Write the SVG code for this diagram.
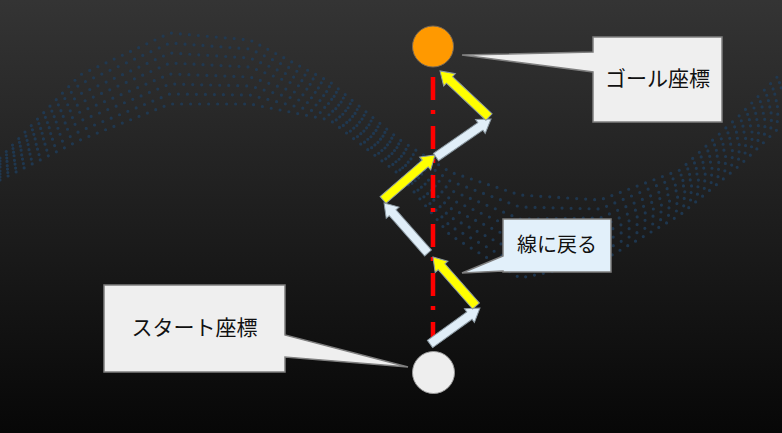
<svg xmlns="http://www.w3.org/2000/svg" width="782" height="433" viewBox="0 0 782 433">
  <defs>
    <linearGradient id="bg" x1="0" y1="0" x2="0" y2="1">
      <stop offset="0" stop-color="#343434"/>
      <stop offset="1" stop-color="#070707"/>
    </linearGradient>
  </defs>
  <style>
    .wave { fill: none; stroke: #1f3b57; stroke-width: 3.2; stroke-linecap: round; stroke-linejoin: round; stroke-dasharray: 0 9; opacity: 0.85; }
    .trail { fill: none; stroke: #ff0000; stroke-width: 4.5; stroke-dasharray: 23 10 4 12; }
    .arrow { stroke: #8c9aa3; stroke-width: 1; stroke-linejoin: miter; }
    .yel { fill: #ffff00; }
    .blu { fill: #e0eef8; }
    .callout { stroke: #7f7f7f; stroke-width: 1.5; }
    .label { font-family: "Noto Sans CJK JP", "Noto Sans", sans-serif; fill: #111111; text-anchor: middle; }
  </style>

  <rect x="0" y="0" width="782" height="433" fill="url(#bg)"/>

  <g id="wave-background">
    <path class="wave" d="M0,158 L80,75 L170,33 L250,40 L330,82 L400,140 L450,172 L520,195 L600,200 L680,170 L740,115 L782,72"/>
    <path class="wave" d="M0,161 L80,84 L170,43 L250,49 L330,87 L400,145 L450,181 L520,207 L600,209 L680,176 L740,122 L782,80"/>
    <path class="wave" d="M0,164 L80,94 L170,53 L250,58 L330,93 L400,150 L450,190 L520,219 L600,218 L680,183 L740,129 L782,87"/>
    <path class="wave" d="M0,167 L80,103 L170,63 L250,67 L330,98 L400,155 L450,199 L520,231 L600,227 L680,189 L740,136 L782,95"/>
    <path class="wave" d="M0,171 L80,112 L170,74 L250,77 L330,104 L400,160 L450,208 L520,242 L600,235 L680,196 L740,144 L782,102"/>
    <path class="wave" d="M0,174 L80,121 L170,84 L250,86 L330,109 L400,165 L450,217 L520,254 L600,244 L680,202 L740,151 L782,110"/>
    <path class="wave" d="M0,177 L80,131 L170,94 L250,95 L330,115 L400,170 L450,226 L520,266 L600,253 L680,209 L740,158 L782,117"/>
    <path class="wave" d="M0,180 L80,140 L170,104 L250,104 L330,120 L400,175 L450,235 L520,278 L600,262 L680,215 L740,165 L782,125"/>
  </g>

  <g id="connectors">
    <line class="trail" x1="433" y1="77" x2="433" y2="347"/>
    <path class="arrow blu" transform="translate(430,344) rotate(-35.8)" d="M0,-4.5 L48.6,-4.5 L48.6,-8.5 L61.6,0 L48.6,8.5 L48.6,4.5 L0,4.5 Z"/>
    <path class="arrow yel" transform="translate(476,306) rotate(-131.3)" d="M0,-4.5 L52.2,-4.5 L52.2,-8.5 L65.2,0 L52.2,8.5 L52.2,4.5 L0,4.5 Z"/>
    <path class="arrow blu" transform="translate(428,253) rotate(-131.3)" d="M0,-4.5 L53.6,-4.5 L53.6,-8.5 L66.6,0 L53.6,8.5 L53.6,4.5 L0,4.5 Z"/>
    <path class="arrow yel" transform="translate(383,200) rotate(-40.9)" d="M0,-4.5 L55.8,-4.5 L55.8,-8.5 L68.8,0 L55.8,8.5 L55.8,4.5 L0,4.5 Z"/>
    <path class="arrow blu" transform="translate(436,157) rotate(-34.6)" d="M0,-4.5 L53.9,-4.5 L53.9,-8.5 L66.9,0 L53.9,8.5 L53.9,4.5 L0,4.5 Z"/>
    <path class="arrow yel" transform="translate(489,117) rotate(-136.8)" d="M0,-4.5 L54.2,-4.5 L54.2,-8.5 L67.2,0 L54.2,8.5 L54.2,4.5 L0,4.5 Z"/>
  </g>

  <g id="goal">
    <circle cx="433" cy="46.5" r="20.5" fill="#ff9900" stroke="#7a6a55" stroke-width="1"/>
  </g>

  <g id="start">
    <circle cx="433.5" cy="372.5" r="21" fill="#eeeeee" stroke="#9a9a9a" stroke-width="1"/>
  </g>

  <g id="goal-label">
    <path class="callout" fill="#efefef" d="M593,37 H722 V122 H593 V72 L462,55 L593,52 Z"/>
    <text class="label" x="657.5" y="86" font-size="21">ゴール座標</text>
  </g>

  <g id="return-label">
    <path class="callout" fill="#e2f0fa" stroke="#7f8c94" d="M503,219 H611 V272 H503 V271 L462,273 L503,256 Z"/>
    <text class="label" x="557" y="252" font-size="20">線に戻る</text>
  </g>

  <g id="start-label">
    <path class="callout" fill="#efefef" d="M104,285 H285 V335 L408,367 L285,357 V372 H104 Z"/>
    <text class="label" x="194.5" y="335" font-size="21">スタート座標</text>
  </g>
</svg>
